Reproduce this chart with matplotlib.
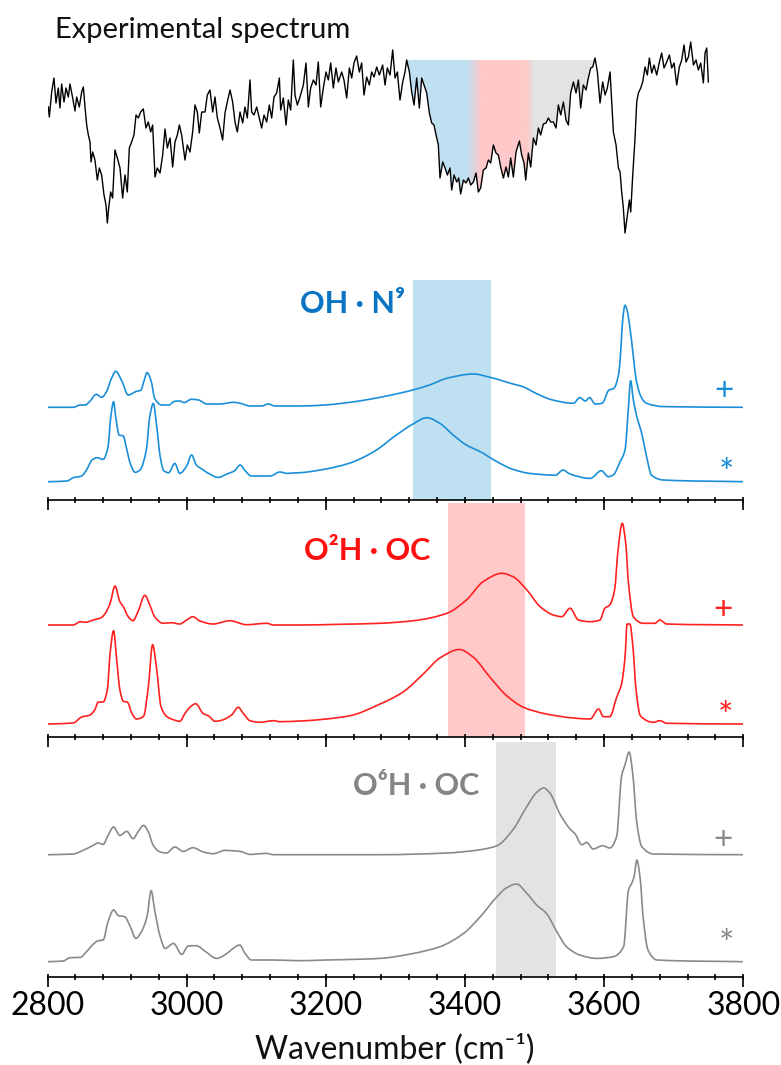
import numpy as np
import matplotlib
matplotlib.use("Agg")
import matplotlib.pyplot as plt
from matplotlib.ticker import MultipleLocator
from matplotlib.path import Path
from matplotlib.patches import PathPatch

plt.rcParams['font.family'] = ['Lato', 'DejaVu Sans']

# ---------------- data ----------------
# experimental spectrum, wavenumber / transmission (arb. units)
exp_wn = [2801.2, 2802.6, 2806.0, 2809.3, 2812.2, 2815.5, 2817.9, 2820.3, 2823.7, 2826.6,
          2829.9, 2832.3, 2836.2, 2839.5, 2841.9, 2845.7, 2849.1, 2851.5, 2853.9, 2856.3,
          2858.7, 2861.1, 2862.5, 2864.9, 2868.2, 2871.6, 2874.5, 2877.8, 2881.2, 2884.1,
          2886.0, 2887.9, 2890.8, 2893.6, 2897.0, 2900.4, 2904.2, 2908.0, 2911.4, 2914.7,
          2917.6, 2920.9, 2924.3, 2927.2, 2930.5, 2933.9, 2937.7, 2941.5, 2944.9, 2948.3,
          2951.1, 2954.5, 2957.8, 2961.7, 2965.5, 2968.9, 2972.2, 2976.1, 2979.9, 2983.2,
          2986.6, 2989.5, 2992.8, 2997.6, 3000.9, 3004.8, 3008.6, 3012.0, 3015.3, 3018.2,
          3021.6, 3026.4, 3029.7, 3033.5, 3037.4, 3040.7, 3044.1, 3047.9, 3051.7, 3055.1,
          3058.4, 3062.3, 3066.1, 3069.5, 3072.8, 3076.7, 3080.5, 3083.8, 3087.2, 3091.0,
          3093.4, 3096.8, 3100.6, 3104.4, 3107.8, 3111.2, 3115.0, 3118.8, 3122.2, 3125.5,
          3129.4, 3133.2, 3135.1, 3138.9, 3142.8, 3146.1, 3149.5, 3153.3, 3155.7, 3159.1,
          3162.9, 3167.7, 3171.5, 3174.9, 3178.2, 3182.1, 3185.9, 3189.2, 3192.6, 3196.4,
          3200.3, 3203.6, 3207.0, 3210.8, 3214.6, 3218.0, 3222.8, 3226.1, 3230.0, 3233.8,
          3237.2, 3240.5, 3244.3, 3248.2, 3251.5, 3254.9, 3258.7, 3262.5, 3265.9, 3269.3,
          3273.1, 3276.9,
          3281.7, 3285.1, 3288.4, 3292.3, 3296.1, 3299.5, 3302.8, 3306.6, 3310.5, 3313.8,
          3316.2, 3320.1, 3323.4, 3326.8, 3330.6, 3334.4, 3337.8, 3341.1, 3345.0, 3348.8,
          3352.2, 3355.5, 3358.4, 3361.7, 3364.1, 3368.0, 3371.3, 3374.7, 3378.5, 3380.9,
          3384.3, 3388.1, 3391.0, 3393.8, 3397.7, 3401.5, 3404.9, 3408.2, 3412.1, 3415.9,
          3419.2, 3422.6, 3426.4, 3430.3, 3433.6, 3437.0, 3440.8, 3444.6, 3448.0, 3451.3,
          3455.2, 3459.0, 3462.4, 3465.7, 3469.5, 3473.4, 3478.2, 3481.5, 3484.9, 3487.3,
          3491.1, 3494.5, 3498.3, 3502.1, 3505.5, 3508.8, 3512.7, 3516.5, 3519.8, 3523.2,
          3527.0, 3530.9, 3534.2, 3537.6, 3541.4, 3545.2, 3548.6, 3551.9, 3555.8, 3559.6,
          3563.0, 3566.3, 3570.1, 3574.0, 3577.3, 3580.7, 3583.6, 3586.9, 3590.3, 3594.1,
          3597.9, 3601.3, 3604.6, 3608.5, 3610.9, 3613.3, 3617.1, 3620.5, 3622.9, 3625.2,
          3627.6, 3630.0, 3633.4, 3636.3, 3638.2, 3641.1, 3644.4, 3646.8, 3649.2, 3652.6,
          3655.4, 3658.8, 3662.1, 3665.0, 3668.4, 3671.7, 3675.6, 3679.4, 3682.7, 3686.1,
          3689.9, 3693.8, 3697.1, 3700.5, 3704.3, 3708.1, 3711.5, 3714.8, 3717.7, 3721.1,
          3724.4, 3728.3, 3732.1, 3735.4, 3738.8, 3742.6, 3745.0, 3747.4, 3749.8]
exp_T = [143, 133, 158, 172, 147, 162, 142, 166, 148, 162,
         153, 166, 152, 139, 153, 143, 158, 163, 143, 125,
         115, 108, 88, 98, 90, 70, 82, 75, 55, 45,
         27, 42, 58, 52, 100, 92, 82, 52, 75, 58,
         102, 108, 115, 135, 132, 138, 141, 122, 128, 118,
         125, 73, 82, 77, 95, 121, 102, 112, 83, 108,
         115, 125, 115, 90, 105, 98, 118, 145, 138, 117,
         138, 138, 155, 160, 138, 153, 132, 122, 110, 137,
         148, 160, 148, 128, 118, 138, 127, 143, 132, 170,
         138, 135, 143, 132, 122, 135, 128, 145, 132, 153,
         157, 172, 140, 152, 125, 150, 140, 190, 155, 145,
         153, 165, 187, 143, 162, 170, 165, 188, 143, 162,
         178, 170, 187, 162, 182, 168, 178, 170, 152, 182,
         172, 187, 194, 178, 187, 155, 173, 165, 178, 173,
         183, 175,
         185, 165, 182, 175, 200, 172, 178, 150, 168, 178,
         190, 178, 158, 145, 172, 142, 172, 165, 157, 137,
         127, 125, 115, 105, 72, 88, 82, 75, 82, 60,
         75, 68, 72, 56, 70, 67, 72, 65, 68, 77,
         58, 62, 80, 82, 90, 87, 105, 97, 95, 83,
         72, 83, 73, 92, 73, 98, 109, 95, 87, 70,
         97, 83, 112, 105, 122, 115, 126, 127, 132, 128,
         128, 122, 145, 135, 148, 130, 125, 157, 168, 157,
         170, 142, 165, 160, 172, 182, 183, 192, 178, 147,
         168, 155, 162, 178, 148, 118, 105, 82, 78, 58,
         42, 17, 35, 50, 38, 75, 112, 148, 157, 162,
         168, 183, 175, 192, 177, 185, 175, 188, 197, 182,
         188, 195, 182, 187, 165, 183, 190, 205, 188, 193,
         208, 185, 190, 180, 187, 167, 197, 202, 168]
exp_band = (3316.2, 3586.9)
exp_band_top = 190

# simulated spectra (intensity, arb. units)
n9_plus_wn = [2800, 2837, 2847, 2854, 2861, 2870, 2878, 2885, 2892, 2898, 2907, 2916, 2928, 2934,
              2939, 2943, 2949, 2954, 2964, 2974, 2983, 2990, 2996, 3007, 3017, 3029, 3048, 3067,
              3077, 3091, 3108, 3117, 3127, 3163, 3198, 3240, 3278, 3325, 3349, 3374, 3412, 3436,
              3469, 3483, 3502, 3526, 3556, 3565, 3573, 3579, 3587, 3597, 3607, 3614, 3621, 3624,
              3627, 3630, 3633, 3637, 3642, 3646, 3651, 3656, 3661, 3685, 3800]
n9_plus_I = [0, 0, 2.3, 2.3, 6, 13, 10, 16, 29, 36, 26, 12.3, 16, 17,
             27, 34.7, 26, 9, 2.3, 2.3, 6, 6.3, 4.7, 8, 7.3, 3.3, 3.3, 5,
             4, 1.3, 1.3, 3.3, 1.3, 1.3, 2.3, 5.5, 10, 17.3, 22.3, 29, 33.3, 30,
             23.3, 20.7, 14, 7.3, 4, 9.7, 6.3, 9.7, 3.3, 4, 17.3, 19, 34, 58,
             90, 102, 97, 80, 50.7, 28, 14, 7, 4, 0.7, 0]

n9_star_wn = [2800, 2828, 2837, 2849, 2856, 2864, 2871, 2880, 2887, 2891, 2895, 2898, 2903, 2909,
              2913, 2919, 2926, 2933, 2942, 2947, 2952, 2957, 2962, 2967, 2974, 2983, 2990, 3000,
              3007, 3014, 3024, 3033, 3045, 3058, 3069, 3077, 3084, 3093, 3120, 3134, 3144, 3153,
              3163, 3197, 3233, 3269, 3302, 3326, 3345, 3364, 3383, 3402, 3422, 3446, 3469, 3493,
              3530, 3541, 3550, 3580, 3596, 3606, 3613, 3623, 3630, 3635, 3638, 3642, 3647, 3654,
              3661, 3668, 3685, 3800]
n9_star_I = [0, 0.7, 4, 5.7, 11.7, 21.7, 24, 22.3, 35, 65, 80, 65, 46.7, 45.7,
             35, 18.3, 9.3, 11.7, 31.7, 65, 78.3, 55, 25, 11, 9, 18.3, 8.3, 15.7,
             26.7, 16.7, 11.7, 7.7, 4.3, 7.7, 11, 16.7, 11, 5.7, 5.7, 9.7, 8.3, 8.7,
             9, 12.3, 18.3, 30, 47, 58, 64, 58.3, 46.7, 36.7, 30, 20, 12.3, 8.3,
             6.5, 11.7, 8, 3.3, 11, 5, 6.7, 20, 31.7, 75, 101, 81.7, 65, 48.3,
             25, 6.7, 1.7, 0]

o2_plus_wn = [2800, 2837, 2847, 2854, 2866, 2878, 2883, 2890, 2897, 2904, 2909, 2916, 2923, 2930,
              2940, 2947, 2954, 2966, 2978, 2990, 3000, 3009, 3019, 3038, 3062, 3086, 3115, 3125,
              3163, 3220, 3278, 3326, 3374, 3402, 3426, 3453, 3469, 3489, 3508, 3527, 3539, 3551,
              3563, 3580, 3594, 3601, 3608, 3615, 3620, 3626, 3631, 3635, 3642, 3656, 3673, 3680,
              3690, 3800]
o2_plus_I = [0, 0, 3.3, 2.7, 5, 7.7, 11.7, 21.7, 39, 23.3, 18.3, 8.3, 4.3, 13.3,
             29.7, 20, 8.3, 1.7, 2.3, 1, 5, 8.3, 4, 1, 4.3, 0.3, 1.7, 0,
             0, 0.7, 1.7, 4.3, 11.7, 25, 43.3, 51.7, 48.3, 35, 18.3, 10, 8.3, 16.7,
             5, 3.3, 5, 16.7, 20, 35, 75, 101.7, 81.7, 41.7, 8.3, 1.7, 1.7, 5,
             1, 0]

o2_star_wn = [2800, 2837, 2849, 2861, 2868, 2873, 2880, 2886, 2890, 2895, 2899, 2904, 2909, 2915,
              2921, 2928, 2938, 2945, 2951, 2957, 2963, 2971, 2981, 2990, 2998, 3005, 3013, 3024,
              3031, 3041, 3050, 3065, 3074, 3081, 3091, 3105, 3125, 3134, 3163, 3233, 3278, 3311,
              3340, 3364, 3392, 3412, 3436, 3460, 3484, 3517, 3556, 3580, 3592, 3599, 3608, 3618,
              3625, 3630, 3633, 3637, 3641, 3646, 3652, 3671, 3680, 3690, 3800]
o2_star_I = [0, 1, 7, 9, 14.3, 22, 22, 34.3, 71, 93.3, 67.7, 34.3, 22.7, 21.7,
             11, 5, 7.7, 37.7, 79.3, 54.3, 17.7, 7.7, 4.3, 2.7, 11, 17, 20.3, 10.3,
             8.3, 2.7, 3.7, 9.3, 16.7, 11, 3.3, 1.7, 3.3, 2.3, 3, 8, 20, 32,
             50, 66, 74.5, 66.7, 46.7, 28.3, 16.7, 10, 6, 5, 15, 7.3, 7.3, 26.7,
             40, 66.7, 100, 100, 80, 33.3, 8.3, 1.7, 3.3, 0.7, 0]

o6_plus_wn = [2800, 2837, 2851, 2864, 2873, 2880, 2887, 2895, 2904, 2914, 2923, 2930, 2938, 2945,
              2952, 2962, 2971, 2983, 2995, 3009, 3024, 3038, 3055, 3077, 3091, 3115, 3125, 3163,
              3278, 3374, 3422, 3446, 3469, 3489, 3503, 3513, 3522, 3537, 3551, 3558, 3568, 3575,
              3584, 3598, 3608, 3618, 3625, 3630, 3636, 3641, 3647, 3654, 3671, 3800]
o6_plus_I = [0, 0.7, 4.3, 8.7, 11.7, 10.3, 19.3, 27.7, 19.3, 23.3, 16, 22.7, 29.3, 22.7,
             9.3, 2.7, 1.7, 7.7, 3.3, 7, 2.7, 1, 4.3, 3.3, 0.3, 1.3, 0, 0,
             0, 1.7, 5, 9, 25, 48.3, 62.3, 66.7, 61.7, 40, 25.7, 21, 10, 12.3,
             5.7, 9, 6.7, 18.3, 78.3, 90, 102.7, 81.7, 31.7, 8.3, 0.7, 0]

o6_star_wn = [2800, 2823, 2832, 2847, 2856, 2866, 2873, 2880, 2887, 2895, 2902, 2911, 2919, 2927,
              2935, 2943, 2949, 2954, 2962, 2969, 2981, 2993, 3002, 3014, 3026, 3043, 3058, 3065,
              3076, 3084, 3093, 3125, 3163, 3200, 3250, 3278, 3326, 3364, 3398, 3422, 3446, 3460,
              3474, 3489, 3503, 3517, 3532, 3546, 3565, 3589, 3613, 3628, 3635, 3640, 3643, 3647,
              3652, 3656, 3663, 3676, 3800]
o6_star_I = [0, 0.7, 4, 4.3, 10, 17.7, 21, 21.7, 40, 51.7, 46, 45, 35, 23.3,
             30, 45, 71, 51.7, 25, 13.3, 18.3, 7.3, 15.7, 16, 10.7, 3.3, 8.3, 12.3,
             16.7, 8.3, 1.7, 1.7, 1, 1.7, 2.5, 3.3, 8.3, 15, 28.3, 45, 65, 74,
             77.7, 68.3, 56.7, 48.3, 30, 15, 6.7, 3.3, 5, 15, 71.7, 79, 85, 101.7,
             81.7, 45, 11.7, 1.7, 0]

panel_labels = ['OH · N⁹', 'O²H · OC', 'O⁶H · OC']
panel_bands = [(3325, 3437), (3375, 3486), (3444, 3531)]

# ---------------- styling ----------------
W, H = 781, 1065
fig = plt.figure(figsize=(W / 100, H / 100), dpi=100)


def fx(px):
    return px / W


def fy(py):
    return 1 - py / H


def smooth_line(ax, xs, ys, **kw):
    # draw the read points joined by smooth bezier segments (monotone hermite)
    xs = np.asarray(xs, float)
    ys = np.asarray(ys, float)
    h = np.diff(xs)
    d = np.diff(ys) / h
    m = np.zeros_like(ys)
    m[0], m[-1] = d[0], d[-1]
    for k in range(1, len(xs) - 1):
        if d[k - 1] * d[k] > 0:
            w1 = 2 * h[k] + h[k - 1]
            w2 = h[k] + 2 * h[k - 1]
            m[k] = (w1 + w2) / (w1 / d[k - 1] + w2 / d[k])
    verts = [(xs[0], ys[0])]
    codes = [Path.MOVETO]
    for k in range(len(xs) - 1):
        verts += [(xs[k] + h[k] / 3, ys[k] + m[k] * h[k] / 3),
                  (xs[k + 1] - h[k] / 3, ys[k + 1] - m[k + 1] * h[k] / 3),
                  (xs[k + 1], ys[k + 1])]
        codes += [Path.CURVE4] * 3
    ax.add_patch(PathPatch(Path(verts, codes), fill=False, capstyle='round',
                           joinstyle='round', **kw))


left, right = 47.5, 743.3
width = fx(right - left)

blue, red, grey = '#1a8fd8', '#ff2020', '#8a8a8a'
blue_lab, red_lab, grey_lab = '#0a74c4', '#ff1010', '#858585'
blue_band, red_band, grey_band = '#bfe0f1', '#ffc9c9', '#e3e3e3'

# ---- experimental panel ----
ax0 = fig.add_axes([fx(left), fy(240), width, 200 / H])
ax0.axis('off')

x = np.array(exp_wn)
y = np.array(exp_T, dtype=float)
m = (x >= exp_band[0]) & (x <= exp_band[1])
poly = ax0.fill_between(x[m], y[m], exp_band_top, color='none', lw=0)
stops = [exp_band[0], 3402, 3422, 3487, 3498, exp_band[1]]
cols = np.array([matplotlib.colors.to_rgb(c) for c in
                 [blue_band, blue_band, red_band, red_band, grey_band, grey_band]])
gx = np.linspace(exp_band[0], exp_band[1], 400)
grad = np.stack([np.interp(gx, stops, cols[:, k]) for k in range(3)], axis=-1)[None, :, :]
im = ax0.imshow(grad, extent=[exp_band[0], exp_band[1], 0, exp_band_top],
                aspect='auto', origin='lower', zorder=1)
im.set_clip_path(poly.get_paths()[0], transform=ax0.transData)
ax0.plot(x, y, color='black', lw=1.0, zorder=3)
ax0.set_ylim(10, 210)
ax0.set_xlim(2800, 3800)

fig.text(fx(55), fy(38), 'Experimental spectrum', ha='left', va='baseline',
         fontsize=21, fontweight='normal', color='#111111')

# ---- simulated panels ----
panels = [
    (500, 280, (n9_plus_wn, n9_plus_I), (n9_star_wn, n9_star_I), 92.7, 18.3,
     blue, blue_lab, blue_band, (405, 313), (724, 391), (726, 468)),
    (737.3, 503, (o2_plus_wn, o2_plus_I), (o2_star_wn, o2_star_I), 112.3, 13.3,
     red, red_lab, red_band, (430, 560), (723, 610), (725, 711)),
    (977, 742, (o6_plus_wn, o6_plus_I), (o6_star_wn, o6_star_I), 122.3, 15.3,
     grey, grey_lab, grey_band, (479, 795), (723, 840), (726, 939)),
]

for i, (bot, top, plus, star, off_p, off_s, col, labcol, bandcol,
        labpos, ppos, spos) in enumerate(panels):
    ax = fig.add_axes([fx(left), fy(bot), width, (bot - top) / H])
    ax.set_xlim(2800, 3800)
    ax.set_ylim(0, bot - top)
    ax.axvspan(*panel_bands[i], color=bandcol, lw=0, zorder=0)
    smooth_line(ax, plus[0], np.array(plus[1]) + off_p, color=col, lw=1.2, zorder=2)
    smooth_line(ax, star[0], np.array(star[1]) + off_s, color=col, lw=1.2, zorder=2)
    for s in ['top', 'left', 'right']:
        ax.spines[s].set_visible(False)
    ax.spines['bottom'].set_linewidth(1.2)
    ax.spines['bottom'].set_zorder(5)
    ax.set_yticks([])
    ax.xaxis.set_major_locator(MultipleLocator(200))
    ax.xaxis.set_minor_locator(MultipleLocator(40))
    ax.xaxis.remove_overlapping_locs = False
    ax.tick_params(axis='x', which='major', direction='out', length=7, width=1.2,
                   labelsize=23, pad=3, labelbottom=(i == 2))
    ax.tick_params(axis='x', which='minor', direction='inout', length=5, width=1.2)
    ax.set_facecolor('none')

    fig.text(fx(labpos[0]), fy(labpos[1]), panel_labels[i], ha='right', va='baseline',
             fontsize=22, fontweight='bold', color=labcol)
    fig.text(fx(ppos[0]), fy(ppos[1]), '+', ha='center', va='center',
             fontsize=24, color=col)
    fig.text(fx(spos[0]), fy(spos[1] + 6), '*', ha='center', va='center',
             fontsize=26, color=col)

fig.text(fx(395), fy(1058), 'Wavenumber (cm⁻¹)', ha='center', va='baseline',
         fontsize=23, color='#111111')

fig.savefig('out.png', dpi=100)
